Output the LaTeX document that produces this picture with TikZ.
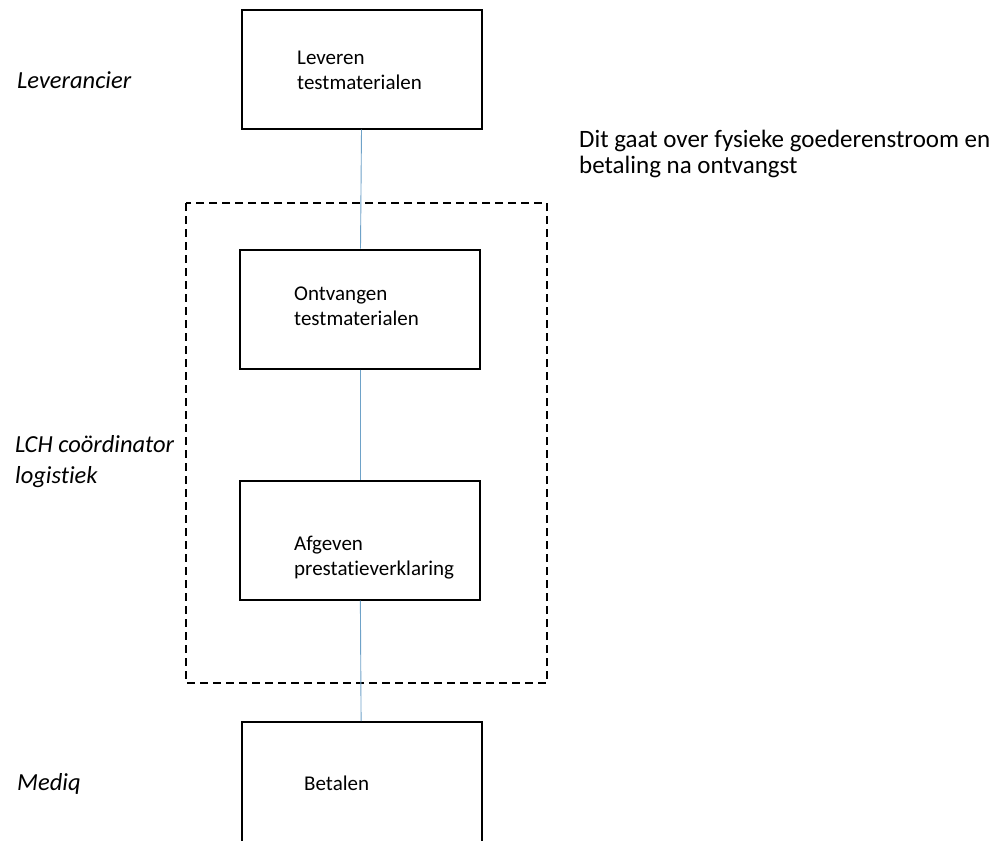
\documentclass[tikz,border=0pt]{standalone}
\usepackage{fontspec}
\setmainfont{Carlito}[Ligatures=NoCommon]
\usetikzlibrary{positioning}
\definecolor{linkblue}{RGB}{110,162,200}
\tikzset{
    stepbox/.style={draw, line width=2pt, minimum width=240pt, minimum height=119pt, inner sep=0pt},
    boxtext/.style={anchor=base west, align=left, inner sep=0pt, font=\fontsize{21}{25}\selectfont},
    lane/.style={anchor=base west, align=left, inner sep=0pt, font=\fontsize{24.5}{31}\selectfont\itshape},
    link/.style={draw=linkblue, line width=0.9pt},
    group/.style={draw, line width=2.2pt, dash pattern=on 8pt off 5pt}
}
\begin{document}
\begin{tikzpicture}[x=1pt, y=-1pt]
    \clip (0, 0) rectangle (994, 841);

    % lanes
    \node[lane] (leverancier) at (17, 88) {Leverancier};
    \node[lane] (lch) at (15, 483) {LCH coördinator\\logistiek};
    \node[lane] (mediq) at (17, 790) {Mediq};

    % group
    \draw[group] (186, 203) rectangle (547, 683);

    % steps
    \node[stepbox] (leveren) at (362, 69) {};
    \node[boxtext] at (297, 89) {Leveren\\testmaterialen};

    \node[stepbox] (ontvangen) at (360, 309) {};
    \node[boxtext] at (294, 325) {Ontvangen\\testmaterialen};

    \node[stepbox] (afgeven) at (360, 540) {};
    \node[boxtext] at (294, 575) {Afgeven\\prestatieverklaring};

    \node[stepbox, minimum height=130pt] (betalen) at (361.5, 787) {};
    \node[boxtext] at (304, 790) {Betalen};

    \draw[link] (leveren) -- (ontvangen);
    \draw[link] (ontvangen) -- (afgeven);
    \draw[link] (afgeven) -- (betalen);

    \node[boxtext, font=\fontsize{25}{26}\selectfont] (note) at (579, 173)
        {Dit gaat over fysieke goederenstroom en\\betaling na ontvangst};
\end{tikzpicture}
\end{document}
